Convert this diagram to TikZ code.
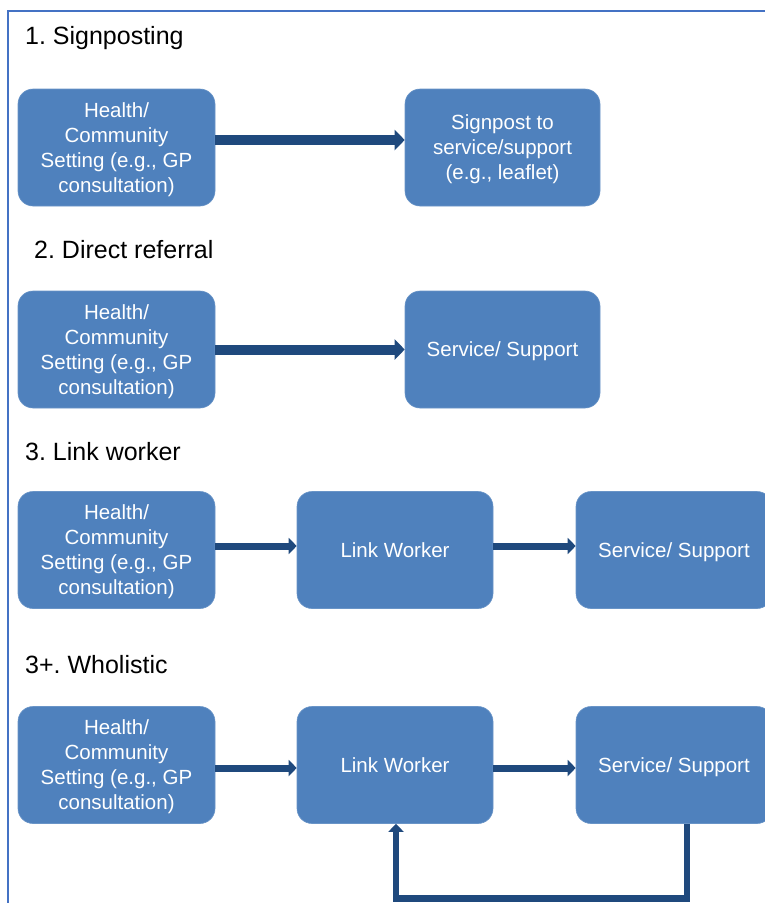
\documentclass[tikz,border=0pt]{standalone}
\usepackage{fontspec}
\setmainfont{Liberation Sans}
\frenchspacing
\usetikzlibrary{arrows.meta}
\definecolor{boxblue}{HTML}{4F81BD}
\definecolor{arrowblue}{HTML}{1F497D}
\definecolor{frameblue}{HTML}{4472C4}
\tikzset{
  stepbox/.style={fill=boxblue, draw=boxblue!85!white, line width=0.6pt,
    rounded corners=15pt, minimum height=117pt, inner sep=0pt,
    text=white, align=center, font=\fontsize{20.5}{25}\selectfont},
  lowtext/.style={text depth=-5pt},
  wide/.style={minimum width=197pt},
  title/.style={anchor=base west, inner sep=0pt, font=\fontsize{25}{29}\selectfont},
  bigarrow/.style={draw=arrowblue, line width=10pt,
    -{Triangle[length=10pt,width=20pt]}},
  smallarrow/.style={draw=arrowblue, line width=7pt,
    -{Triangle[length=8pt,width=16pt]}},
  loopline/.style={draw=arrowblue, line width=6.5pt, line join=miter,
    -{Triangle[length=8pt,width=15pt]}},
}
\begin{document}
\begin{tikzpicture}[x=1pt,y=-1pt]
\useasboundingbox (0,0) rectangle (765,903);
\begin{scope}
\clip (0,0) rectangle (765,903);
% outer frame
\draw[frameblue, line width=1.6pt] (8,11) rectangle (790,930);

% 1. Signposting
\node[title] (t1) at (25,44) {1. Signposting};
\node[stepbox, lowtext, wide] (h1) at (116.5,147.5) {Health/\\Community\\Setting (e.g., GP\\consultation)};
\node[stepbox, lowtext, minimum width=195pt] (s1) at (502.5,147.5) {Signpost to\\service/support\\(e.g., leaflet)};
\draw[bigarrow] ([yshift=7.5pt]h1.east) -- ([yshift=7.5pt]s1.west);

% 2. Direct referral
\node[title] (t2) at (34,258) {2. Direct referral};
\node[stepbox, lowtext, wide] (h2) at (116.5,349.5) {Health/\\Community\\Setting (e.g., GP\\consultation)};
\node[stepbox, lowtext, minimum width=195pt] (s2) at (502.5,349.5) {Service/ Support};
\draw[bigarrow] (h2.east) -- (s2.west);

% 3. Link worker
\node[title] (t3) at (25,460) {3. Link worker};
\node[stepbox, lowtext, wide] (h3) at (116.5,550) {Health/\\Community\\Setting (e.g., GP\\consultation)};
\node[stepbox, minimum width=196pt] (l3) at (395,550) {Link Worker};
\node[stepbox, lowtext, minimum width=196pt] (s3) at (674,550) {Service/ Support};
\draw[smallarrow] ([yshift=4pt]h3.east) -- ([yshift=4pt]l3.west);
\draw[smallarrow] ([yshift=4pt]l3.east) -- ([yshift=4pt]s3.west);

% 3+. Wholistic
\node[title] (t4) at (25,673) {3+. Wholistic};
\node[stepbox, lowtext, wide] (h4) at (116.5,765) {Health/\\Community\\Setting (e.g., GP\\consultation)};
\node[stepbox, minimum width=196pt] (l4) at (395,765) {Link Worker};
\node[stepbox, lowtext, minimum width=196pt] (s4) at (674,765) {Service/ Support};
\draw[smallarrow] ([yshift=-3pt]h4.east) -- ([yshift=-3pt]l4.west);
\draw[smallarrow] ([yshift=-3pt]l4.east) -- ([yshift=-3pt]s4.west);

% feedback loop from service back to link worker
\coordinate (fb) at (687,898.5);
\draw[loopline] ([xshift=13pt]s4.south) |- (fb) -| ([xshift=1pt]l4.south);
\end{scope}
\end{tikzpicture}
\end{document}
